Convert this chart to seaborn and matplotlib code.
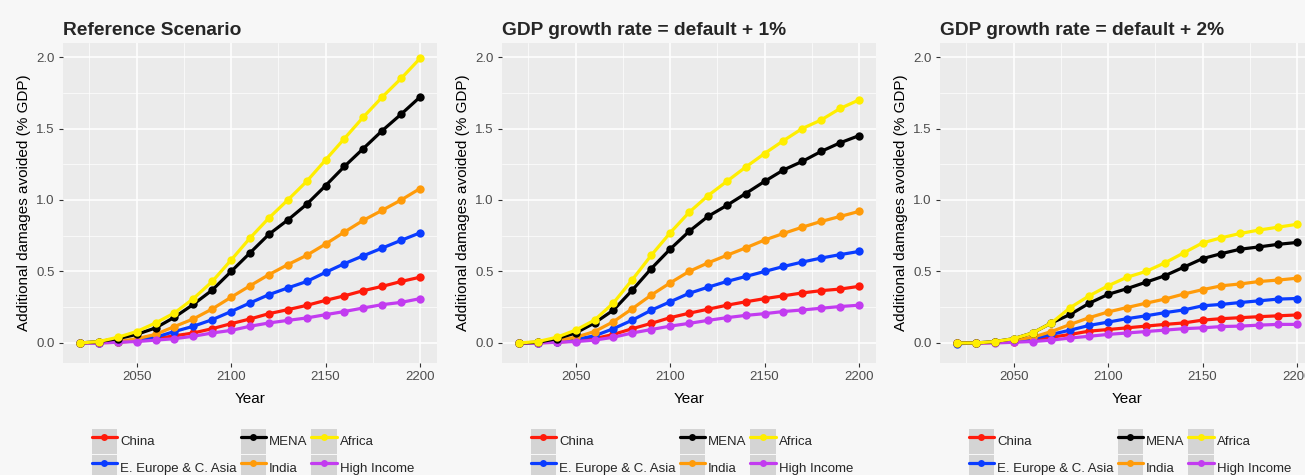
import matplotlib
matplotlib.use("Agg")
import matplotlib.pyplot as plt
from matplotlib.lines import Line2D
from matplotlib.patches import Patch
from matplotlib.ticker import MultipleLocator, FormatStrFormatter
import pandas as pd
import seaborn as sns

years = list(range(2020, 2201, 10))

regions = ["China", "E. Europe & C. Asia", "MENA", "India", "Africa", "High Income"]
colors = {
    "China": "#ff1a0a",
    "E. Europe & C. Asia": "#0a3cff",
    "MENA": "#000000",
    "India": "#ff9b0a",
    "Africa": "#ffee00",
    "High Income": "#c23cf0",
}

titles = ["Reference Scenario", "GDP growth rate = default + 1%", "GDP growth rate = default + 2%"]

# Reference scenario
ref_china = [0, 0.002, 0.005, 0.015, 0.03, 0.05, 0.07, 0.10, 0.135, 0.168, 0.205, 0.233, 0.263, 0.298, 0.33, 0.366, 0.396, 0.43, 0.46]
ref_eeca = [0, 0.002, 0.01, 0.02, 0.04, 0.08, 0.117, 0.163, 0.22, 0.28, 0.338, 0.385, 0.43, 0.494, 0.555, 0.61, 0.664, 0.718, 0.77]
ref_mena = [0, 0.01, 0.03, 0.06, 0.105, 0.18, 0.27, 0.37, 0.50, 0.63, 0.76, 0.86, 0.97, 1.10, 1.235, 1.36, 1.485, 1.60, 1.72]
ref_india = [0, 0.005, 0.01, 0.03, 0.06, 0.115, 0.168, 0.238, 0.32, 0.40, 0.478, 0.548, 0.613, 0.692, 0.776, 0.858, 0.928, 1.0, 1.08]
ref_africa = [0, 0.01, 0.04, 0.08, 0.14, 0.21, 0.31, 0.43, 0.58, 0.734, 0.874, 1.0, 1.13, 1.28, 1.43, 1.58, 1.72, 1.85, 1.99]
ref_high = [0, 0.0, 0.005, 0.01, 0.02, 0.03, 0.047, 0.07, 0.088, 0.117, 0.14, 0.158, 0.175, 0.198, 0.22, 0.245, 0.268, 0.284, 0.31]

# GDP growth rate = default + 1%
g1_china = [0, 0.002, 0.005, 0.015, 0.03, 0.06, 0.10, 0.137, 0.177, 0.208, 0.236, 0.264, 0.288, 0.31, 0.33, 0.35, 0.366, 0.377, 0.396]
g1_eeca = [0, 0.002, 0.01, 0.025, 0.05, 0.10, 0.16, 0.229, 0.288, 0.347, 0.39, 0.43, 0.465, 0.50, 0.535, 0.566, 0.594, 0.618, 0.64]
g1_mena = [0, 0.005, 0.03, 0.07, 0.14, 0.23, 0.37, 0.52, 0.656, 0.78, 0.885, 0.962, 1.045, 1.13, 1.21, 1.27, 1.34, 1.40, 1.45]
g1_india = [0, 0.005, 0.015, 0.04, 0.08, 0.149, 0.24, 0.335, 0.42, 0.50, 0.56, 0.613, 0.665, 0.72, 0.766, 0.81, 0.85, 0.885, 0.92]
g1_africa = [0, 0.01, 0.04, 0.09, 0.16, 0.28, 0.443, 0.613, 0.77, 0.913, 1.03, 1.13, 1.23, 1.325, 1.415, 1.50, 1.56, 1.64, 1.70]
g1_high = [0, 0.0, 0.005, 0.01, 0.02, 0.04, 0.07, 0.094, 0.118, 0.137, 0.158, 0.177, 0.193, 0.205, 0.22, 0.231, 0.243, 0.255, 0.264]

# GDP growth rate = default + 2%
g2_china = [0, 0.0, 0.005, 0.01, 0.02, 0.04, 0.06, 0.083, 0.094, 0.106, 0.118, 0.13, 0.14, 0.16, 0.17, 0.177, 0.184, 0.19, 0.196]
g2_eeca = [-0.005, 0.0, 0.005, 0.015, 0.03, 0.06, 0.09, 0.123, 0.146, 0.17, 0.19, 0.212, 0.231, 0.26, 0.27, 0.283, 0.295, 0.307, 0.311]
g2_mena = [0, 0.0, 0.01, 0.03, 0.07, 0.14, 0.20, 0.278, 0.34, 0.38, 0.425, 0.47, 0.53, 0.59, 0.625, 0.656, 0.672, 0.69, 0.703]
g2_india = [0, 0.0, 0.005, 0.02, 0.04, 0.08, 0.13, 0.177, 0.217, 0.248, 0.278, 0.307, 0.342, 0.373, 0.40, 0.413, 0.43, 0.44, 0.453]
g2_africa = [0, 0.0, 0.01, 0.03, 0.07, 0.14, 0.248, 0.33, 0.40, 0.46, 0.50, 0.56, 0.63, 0.70, 0.736, 0.766, 0.79, 0.81, 0.83]
g2_high = [0, 0.0, 0.0, 0.005, 0.01, 0.02, 0.035, 0.047, 0.06, 0.07, 0.08, 0.09, 0.10, 0.106, 0.115, 0.118, 0.125, 0.13, 0.13]

scenarios = [
    [ref_china, ref_eeca, ref_mena, ref_india, ref_africa, ref_high],
    [g1_china, g1_eeca, g1_mena, g1_india, g1_africa, g1_high],
    [g2_china, g2_eeca, g2_mena, g2_india, g2_africa, g2_high],
]

# drawing order: the higher curves are drawn last so they sit on top
draw_order = ["China", "E. Europe & C. Asia", "India", "High Income", "MENA", "Africa"]

sns.set_theme(style="darkgrid")
plt.rcParams["font.family"] = ["Liberation Sans", "DejaVu Sans"]

fig = plt.figure(figsize=(13.05, 4.75), dpi=100)
fig.patch.set_facecolor("#f7f7f7")

W, H = 1305, 475
lefts = [63, 502, 940]
ax_w, ax_top, ax_bot = 374, 43, 363

for i, (title, series) in enumerate(zip(titles, scenarios)):
    ax = fig.add_axes([lefts[i] / W, 1 - ax_bot / H, ax_w / W, (ax_bot - ax_top) / H])
    ax.set_facecolor("#ebebeb")
    df = pd.DataFrame(
        [(y, r, v) for r, vals in zip(regions, series) for y, v in zip(years, vals)],
        columns=["Year", "Region", "Value"],
    )
    for r in draw_order:
        sns.lineplot(
            data=df[df["Region"] == r], x="Year", y="Value", color=colors[r],
            marker="o", markersize=6, markeredgewidth=0, linewidth=2.3, ax=ax,
            legend=False, zorder=3,
        )
    ax.set_xlim(2011, 2209)
    ax.set_ylim(-0.14, 2.098)
    ax.xaxis.set_major_locator(MultipleLocator(50))
    ax.xaxis.set_minor_locator(MultipleLocator(25))
    ax.yaxis.set_major_locator(MultipleLocator(0.5))
    ax.yaxis.set_minor_locator(MultipleLocator(0.25))
    ax.yaxis.set_major_formatter(FormatStrFormatter("%.1f"))
    ax.grid(which="major", color="white", linewidth=1.1)
    ax.grid(which="minor", color="white", linewidth=0.5)
    ax.set_axisbelow(True)
    for s in ax.spines.values():
        s.set_visible(False)
    ax.tick_params(which="major", length=3, width=0.8, color="#333333",
                   labelsize=9.5, labelcolor="#4d4d4d", pad=3, bottom=True, left=True)
    ax.tick_params(which="minor", length=0)
    ax.set_xlabel("Year", fontsize=11, color="black", labelpad=6)
    ax.set_ylabel("Additional damages avoided (% GDP)", fontsize=11, color="black", labelpad=4)
    ax.set_title(title, loc="left", fontsize=13.8, fontweight="bold", pad=6)

    handles = [
        (Patch(facecolor="#d4d4d4", edgecolor="none"),
         Line2D([], [], color=colors[r], linewidth=2.3, marker="o", markersize=5, markeredgewidth=0))
        for r in regions
    ]
    ax.legend(
        handles, regions, loc="upper center", bbox_to_anchor=(0.508, -0.206), ncol=3,
        frameon=False, fontsize=9.5, handlelength=1.9, handleheight=2.55,
        handletextpad=0.25, columnspacing=0.3, labelspacing=0.08, borderpad=0,
        borderaxespad=0,
    )

fig.savefig("out.png", dpi=100, facecolor=fig.get_facecolor())
